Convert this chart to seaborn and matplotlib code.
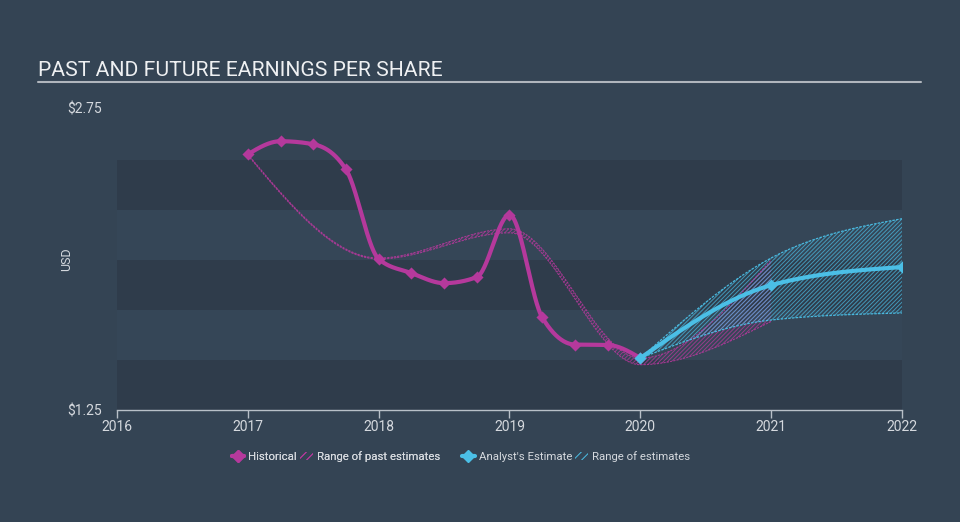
import numpy as np
import pandas as pd
import matplotlib
matplotlib.use("Agg")
import matplotlib.pyplot as plt
import seaborn as sns
from matplotlib.lines import Line2D
from matplotlib.patches import Patch

# Data
hist_x = [2017.0, 2017.25, 2017.5, 2017.75, 2018.0, 2018.25, 2018.5, 2018.75,
          2019.0, 2019.25, 2019.5, 2019.75, 2020.0]
hist_eps = [2.52, 2.585, 2.57, 2.445, 2.0, 1.93, 1.88, 1.91,
            2.22, 1.71, 1.575, 1.573, 1.508]

past_x = [2017.0, 2018.0, 2019.0, 2020.0, 2021.0]
past_low = [2.515, 2.0, 2.13, 1.475, 1.69]
past_high = [2.52, 2.005, 2.15, 1.508, 1.995]

est_x = [2020.0, 2021.0, 2022.0]
est_eps = [1.508, 1.87, 1.96]
est_low = [1.508, 1.697, 1.732]
est_high = [1.508, 2.005, 2.2]

year_ticks = [2016, 2017, 2018, 2019, 2020, 2021, 2022]
y_ticks = [1.25, 2.75]
y_tick_labels = ["$1.25", "$2.75"]

BG = "#344454"
BAND = "#2f3c4b"
LIGHT_BAND = "#354657"
PINK = "#b5399c"
BLUE = "#4bbfe6"
TEXT = "#d5d9de"


def monotone(x, y, n=300):
    # monotone cubic (d3 curveMonotoneX style) used for drawing the smoothed path
    x = np.asarray(x, float)
    y = np.asarray(y, float)
    h = np.diff(x)
    s = np.diff(y) / h
    m = np.zeros_like(y)
    for k in range(1, len(x) - 1):
        p = (s[k - 1] * h[k] + s[k] * h[k - 1]) / (h[k - 1] + h[k])
        m[k] = (np.sign(s[k - 1]) + np.sign(s[k])) * min(abs(s[k - 1]), abs(s[k]), 0.5 * abs(p))
    if len(x) > 2:
        m[0] = (3 * s[0] - m[1]) / 2
        m[-1] = (3 * s[-1] - m[-2]) / 2
    else:
        m[0] = m[-1] = s[0]
    xs = np.linspace(x[0], x[-1], n)
    idx = np.clip(np.searchsorted(x, xs, side="right") - 1, 0, len(x) - 2)
    t = (xs - x[idx]) / h[idx]
    h00 = 2 * t**3 - 3 * t**2 + 1
    h10 = t**3 - 2 * t**2 + t
    h01 = -2 * t**3 + 3 * t**2
    h11 = t**3 - t**2
    ys = h00 * y[idx] + h10 * h[idx] * m[idx] + h01 * y[idx + 1] + h11 * h[idx] * m[idx + 1]
    return xs, ys


sns.set_style("dark")
plt.rcParams["font.family"] = ["Roboto", "DejaVu Sans"]
plt.rcParams["hatch.linewidth"] = 0.7

fig = plt.figure(figsize=(9.6, 5.22), dpi=100, facecolor=BG)
ax = fig.add_axes([117 / 960, 1 - 410 / 522, 785 / 960, 302 / 522])
ax.set_facecolor(BG)

# horizontal bands
edges = np.linspace(1.25, 2.492, 6)
for i in range(5):
    col = BAND if i % 2 == 0 else LIGHT_BAND
    ax.axhspan(edges[i], edges[i + 1], color=col, lw=0, zorder=0)

# past estimates range
px, pl = monotone(past_x, past_low)
_, ph = monotone(past_x, past_high)
ax.fill_between(px, pl, ph, facecolor="none", edgecolor=PINK, hatch="////////", lw=0, alpha=0.75, zorder=1)
ax.plot(px, pl, color=PINK, lw=0.8, ls=(0, (2, 1)), alpha=0.85, zorder=2)
ax.plot(px, ph, color=PINK, lw=0.8, ls=(0, (2, 1)), alpha=0.85, zorder=2)

# analyst range
ex, el = monotone(est_x, est_low)
_, eh = monotone(est_x, est_high)
ax.fill_between(ex, el, eh, facecolor="none", edgecolor=BLUE, hatch="////////", lw=0, alpha=0.7, zorder=1)
ax.plot(ex, el, color=BLUE, lw=0.9, ls=(0, (2, 1)), alpha=0.95, zorder=2)
ax.plot(ex, eh, color=BLUE, lw=0.9, ls=(0, (2, 1)), alpha=0.95, zorder=2)

# historical line
hx, hy = monotone(hist_x, hist_eps, 600)
sns.lineplot(x=hx, y=hy, ax=ax, color=PINK, lw=3, sort=False, zorder=3)
sns.scatterplot(x=hist_x, y=hist_eps, ax=ax, color=PINK, marker="D", s=38, linewidth=0, zorder=4)

# analyst estimate line
ax2x, ax2y = monotone(est_x, est_eps)
sns.lineplot(x=ax2x, y=ax2y, ax=ax, color=BLUE, lw=3, sort=False, zorder=5)
sns.scatterplot(x=est_x, y=est_eps, ax=ax, color=BLUE, marker="D", s=38, linewidth=0, zorder=6)

ax.set_xlim(2016, 2022)
ax.set_ylim(1.25, 2.75)
ax.set_xticks(year_ticks)
ax.set_xticklabels([str(y) for y in year_ticks])
ax.set_yticks(y_ticks)
ax.set_yticklabels(y_tick_labels)
ax.tick_params(axis="x", colors="#b8c0c8", labelcolor=TEXT, labelsize=10, length=6, width=1, direction="out", pad=1, bottom=True)
ax.tick_params(axis="y", colors=TEXT, labelsize=10, length=0, pad=11)
ax.set_ylabel("USD", color=TEXT, fontsize=9)
ax.yaxis.set_label_coords(-(117 - 73) / 785, 0.5)
ax.set_xlabel("")
for side in ["top", "right", "left"]:
    ax.spines[side].set_visible(False)
ax.spines["bottom"].set_color("#b8c0c8")
ax.spines["bottom"].set_linewidth(1)
ax.grid(False)

# title and rule
fig.text(38 / 960, 1 - 70 / 522, "PAST AND FUTURE EARNINGS PER SHARE", color="#eef0f2",
         fontsize=15.2, va="center", ha="left")
fig.add_artist(Line2D([38 / 960, 921 / 960], [1 - 82 / 522, 1 - 82 / 522], color="#b0b6bd", lw=1.5))

# legend, two groups
leg_kw = dict(frameon=False, fontsize=8.2, labelcolor=TEXT, handlelength=1.1,
              handletextpad=0.35, columnspacing=0.3, ncol=2, loc="center")
h1 = [Line2D([0], [0], color=PINK, lw=3, marker="D", markersize=6),
      Patch(facecolor="none", edgecolor=PINK, hatch="////", lw=0)]
h2 = [Line2D([0], [0], color=BLUE, lw=3, marker="D", markersize=6),
      Patch(facecolor="none", edgecolor=BLUE, hatch="////", lw=0)]
leg1 = fig.legend(h1, ["Historical", "Range of past estimates"],
                  bbox_to_anchor=(336 / 960, 1 - 457 / 522), **leg_kw)
fig.add_artist(leg1)
fig.legend(h2, ["Analyst's Estimate", "Range of estimates"],
           bbox_to_anchor=(576 / 960, 1 - 457 / 522), **leg_kw)

fig.savefig("out.png", dpi=100, facecolor=BG)
